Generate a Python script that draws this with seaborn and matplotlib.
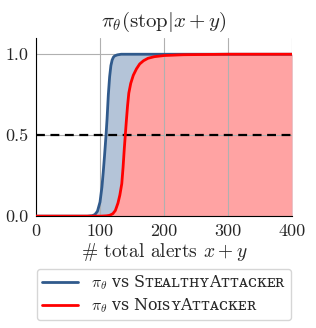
import matplotlib
matplotlib.use("Agg")
import matplotlib.pyplot as plt
import seaborn as sns
import pandas as pd

# Data
stealthy_x = [0, 80, 88, 92, 96, 100, 103, 105, 107, 109.4, 111, 113, 115, 117, 119, 121, 123, 127, 133, 400]
stealthy_y = [0, 0.0, 0.003, 0.01, 0.03, 0.087, 0.18, 0.27, 0.37, 0.5, 0.6, 0.75, 0.86, 0.93, 0.965, 0.982, 0.99, 0.996, 1.0, 1.0]
noisy_x = [0, 100, 110, 115, 120, 124, 128, 131, 134, 136, 138, 139.5, 141, 143, 145, 148, 152, 157, 162, 168, 175, 185, 200, 230, 300, 400]
noisy_y = [0, 0.0, 0.002, 0.005, 0.015, 0.035, 0.08, 0.13, 0.2, 0.3, 0.42, 0.5, 0.58, 0.68, 0.76, 0.82, 0.87, 0.91, 0.94, 0.96, 0.975, 0.985, 0.992, 0.997, 1.0, 1.0]
labels = [r"$\pi_\theta$ vs Sᴛᴇᴀʟᴛʜʏ" + "Aᴛᴛᴀᴄᴋᴇʀ", r"$\pi_\theta$ vs Nᴏɪsʏ" + "Aᴛᴛᴀᴄᴋᴇʀ"]
x_ticks = [0, 100, 200, 300, 400]
y_ticks = [0.0, 0.5, 1.0]

sns.set_style("white")
plt.rcParams["font.family"] = "serif"
plt.rcParams["font.serif"] = ["cmr10", "DejaVu Serif"]
plt.rcParams["mathtext.fontset"] = "cm"
plt.rcParams["axes.formatter.use_mathtext"] = True
plt.rcParams["axes.unicode_minus"] = False

blue = "#305a8c"
red = "#ff0000"

fig = plt.figure(figsize=(3.16, 3.28), dpi=100)
ax = fig.add_axes([0.114, 0.341, 0.81, 0.543])

df_s = pd.DataFrame({"x": stealthy_x, "y": stealthy_y})
df_n = pd.DataFrame({"x": noisy_x, "y": noisy_y})

ax.fill_between(df_s["x"], 0, df_s["y"], color="#b4c4d8", linewidth=0, zorder=1)
ax.fill_between(df_n["x"], 0, df_n["y"], color="#ffa3a3", linewidth=0, zorder=1.1)
sns.lineplot(data=df_s, x="x", y="y", ax=ax, color=blue, linewidth=2.0, label=labels[0], zorder=3)
sns.lineplot(data=df_n, x="x", y="y", ax=ax, color=red, linewidth=2.0, label=labels[1], zorder=3)
ax.axhline(0.5, color="black", linestyle=(0, (4, 2.5)), linewidth=1.6, zorder=2.5)

ax.set_xlim(0, 400)
ax.set_ylim(0, 1.1)
ax.set_xticks(x_ticks)
ax.set_yticks(y_ticks)
ax.set_xticklabels([str(t) for t in x_ticks])
ax.set_yticklabels([f"{t:.1f}" for t in y_ticks])
ax.set_axisbelow("line")
ax.grid(True, color="#b0b0b0", linewidth=0.8)
for s in ["top", "right"]:
    ax.spines[s].set_visible(False)
for s in ["left", "bottom"]:
    ax.spines[s].set_color("black")
    ax.spines[s].set_linewidth(0.8)
ax.tick_params(axis="both", direction="out", length=3.5, width=0.8, color="black", labelsize=13, pad=2)
ax.set_title(r"$\pi_{\theta}(\mathrm{stop}|x+y)$", fontsize=15, pad=8)
ax.set_xlabel(r"# total alerts $x+y$", fontsize=14, labelpad=1)
ax.set_ylabel("")

leg = ax.legend(loc="upper center", bbox_to_anchor=(0.5, -0.25), frameon=True,
                handlelength=2.3, borderpad=0.3, labelspacing=0.3, fancybox=True,
                prop={"family": "DejaVu Serif", "size": 11.4})
leg.get_frame().set_edgecolor("#cccccc")

fig.savefig("out.png", dpi=100)
